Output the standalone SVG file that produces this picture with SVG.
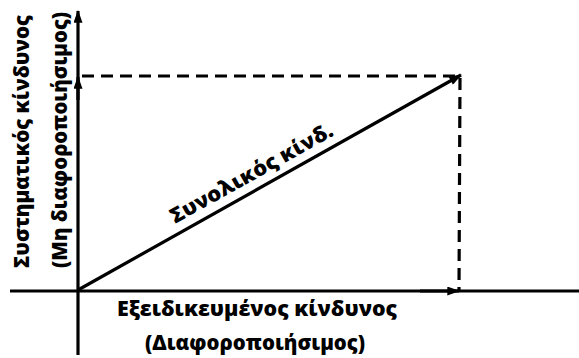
<svg xmlns="http://www.w3.org/2000/svg" width="579" height="358" viewBox="0 0 579 358">
<defs>
<marker id="ah" viewBox="0 0 14 10" refX="13" refY="5" markerWidth="14" markerHeight="9" markerUnits="userSpaceOnUse" orient="auto">
<path d="M0,0 L14,5 L0,10 Z" fill="#000"/>
</marker>
<style>
.ax{stroke:#000;stroke-width:3.2;fill:none}
.dash{stroke:#000;stroke-width:3.2;fill:none;stroke-dasharray:12 7}
.lbl{font-family:"Open Sans","Liberation Sans","DejaVu Sans",sans-serif;font-weight:800;font-size:21px;fill:#000}
</style>
</defs>
<rect width="579" height="358" fill="#fff"/>
<g id="connectors">
<line class="ax" x1="10" y1="291" x2="579" y2="291"/>
<line class="ax" x1="78" y1="355" x2="78" y2="11" marker-end="url(#ah)"/>
<line class="ax" x1="78" y1="100" x2="78" y2="77" marker-end="url(#ah)"/>
<line class="ax" x1="420" y1="291" x2="459" y2="291" marker-end="url(#ah)"/>
<line class="dash" x1="82" y1="76" x2="460" y2="76"/>
<line class="dash" x1="460" y1="78" x2="459" y2="290"/>
<line class="ax" x1="78" y1="290" x2="461" y2="75" marker-end="url(#ah)"/>
</g>
<g id="y-label">
<text class="lbl" transform="translate(29,268) rotate(-90)" textLength="253" lengthAdjust="spacingAndGlyphs">Συστηματικός κίνδυνος</text>
<text class="lbl" transform="translate(67,268) rotate(-90)" textLength="256" lengthAdjust="spacingAndGlyphs">(Μη διαφοροποιήσιμος)</text>
</g>
<g id="x-label">
<text class="lbl" x="117" y="316" textLength="280" lengthAdjust="spacingAndGlyphs">Εξειδικευμένος κίνδυνος</text>
<text class="lbl" x="145" y="350" textLength="220" lengthAdjust="spacingAndGlyphs">(Διαφοροποιήσιμος)</text>
</g>
<g id="total-label">
<text class="lbl" transform="translate(175,224) rotate(-29.1)" textLength="183" lengthAdjust="spacingAndGlyphs">Συνολικός κίνδ.</text>
</g>
</svg>
